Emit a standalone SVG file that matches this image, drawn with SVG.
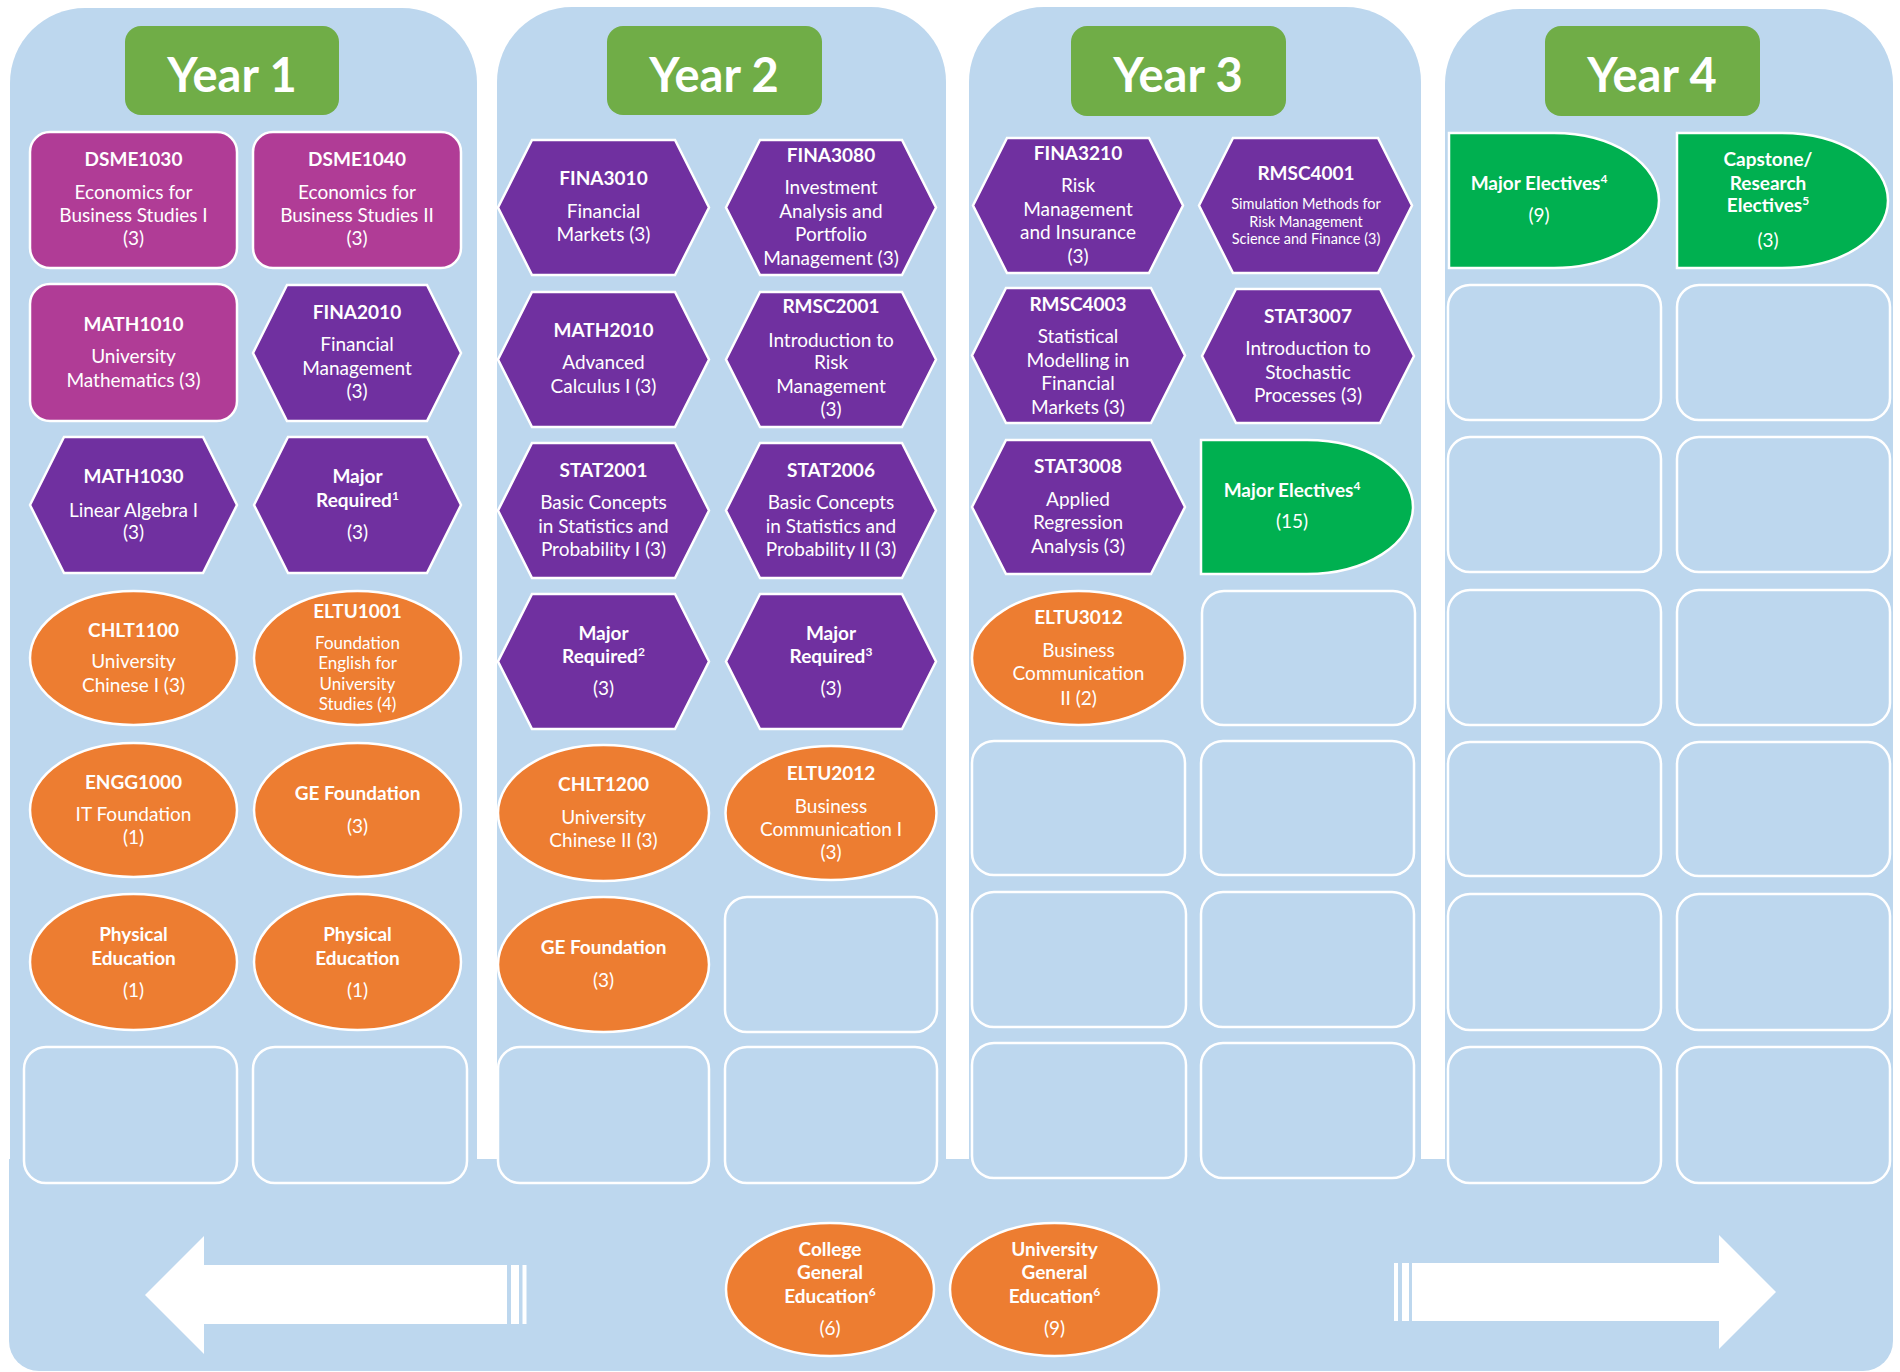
<svg xmlns="http://www.w3.org/2000/svg" width="1900" height="1372" viewBox="0 0 1900 1372">
<style>
.col{fill:#BDD7EE}
.yr{fill:#70AD47}
.yt{font-family:Lato,"Open Sans","Liberation Sans",sans-serif;font-weight:700;font-size:47px;fill:#fff;text-anchor:middle}
.mag{fill:#B03C96;stroke:#fff;stroke-width:2.5}
.pur{fill:#7030A0;stroke:#fff;stroke-width:2.5}
.org{fill:#ED7D31;stroke:#fff;stroke-width:2.5}
.grn{fill:#00B050;stroke:#fff;stroke-width:2.5}
.emp{fill:none;stroke:#fff;stroke-width:2.5}
.arr{fill:#fff}
text{font-family:Lato,"Open Sans","Liberation Sans",sans-serif;font-size:19px;fill:#fff;text-anchor:middle}
.b{font-weight:700}
.s{font-size:17px}
.xs{font-size:14.5px}
.sup{font-size:12px}
</style>

<g id="background">
<path class="col" d="M10,1200 V83 A75,75 0 0 1 85,8 H402 A75,75 0 0 1 477,83 V1200 Z"/>
<path class="col" d="M497,1200 V82 A75,75 0 0 1 572,7 H871 A75,75 0 0 1 946,82 V1200 Z"/>
<path class="col" d="M969,1200 V82 A75,75 0 0 1 1044,7 H1346 A75,75 0 0 1 1421,82 V1200 Z"/>
<path class="col" d="M1445,1200 V84 A75,75 0 0 1 1520,9 H1818 A75,75 0 0 1 1893,84 V1200 Z"/>
<path class="col" d="M9,1159 H1893 V1341 A30,30 0 0 1 1863,1371 H39 A30,30 0 0 1 9,1341 Z"/>
</g>

<g id="year1-label"><rect class="yr" x="125" y="26" width="214" height="89" rx="16"/><text class="yt" x="232" y="92">Year 1</text></g>
<g id="year2-label"><rect class="yr" x="607" y="26" width="215" height="89" rx="16"/><text class="yt" x="714" y="92">Year 2</text></g>
<g id="year3-label"><rect class="yr" x="1071" y="26" width="215" height="90" rx="16"/><text class="yt" x="1178" y="92">Year 3</text></g>
<g id="year4-label"><rect class="yr" x="1545" y="26" width="215" height="90" rx="16"/><text class="yt" x="1652" y="92">Year 4</text></g>

<!-- Year 1 -->
<g id="dsme1030"><rect class="mag" x="30" y="132" width="207" height="136" rx="20"/>
<text class="b" x="133.5" y="166">DSME1030</text><text x="133.5" y="199">Economics for</text><text x="133.5" y="222">Business Studies I</text><text x="133.5" y="245">(3)</text></g>
<g id="dsme1040"><rect class="mag" x="253" y="132" width="208" height="136" rx="20"/>
<text class="b" x="357" y="166">DSME1040</text><text x="357" y="199">Economics for</text><text x="357" y="222">Business Studies II</text><text x="357" y="245">(3)</text></g>
<g id="math1010"><rect class="mag" x="30" y="284" width="207" height="137" rx="20"/>
<text class="b" x="133.5" y="331">MATH1010</text><text x="133.5" y="363">University</text><text x="133.5" y="387">Mathematics (3)</text></g>
<g id="fina2010"><polygon class="pur" points="253,353 287,285 427,285 461,353 427,421 287,421"/>
<text class="b" x="357" y="319">FINA2010</text><text x="357" y="351">Financial</text><text x="357" y="375">Management</text><text x="357" y="398">(3)</text></g>
<g id="math1030"><polygon class="pur" points="30,505 64,437 203,437 237,505 203,573 64,573"/>
<text class="b" x="133.5" y="483">MATH1030</text><text x="133.5" y="517">Linear Algebra I</text><text x="133.5" y="539">(3)</text></g>
<g id="major-required-1"><polygon class="pur" points="254,505 288,437 427,437 461,505 427,573 288,573"/>
<text class="b" x="357.5" y="483">Major</text><text class="b" x="357.5" y="507">Required<tspan class="sup" dy="-7">1</tspan></text><text x="357.5" y="539">(3)</text></g>
<g id="chlt1100"><ellipse class="org" cx="133.5" cy="658" rx="103.5" ry="67"/>
<text class="b" x="133.5" y="637">CHLT1100</text><text x="133.5" y="668">University</text><text x="133.5" y="692">Chinese I (3)</text></g>
<g id="eltu1001"><ellipse class="org" cx="357.5" cy="658" rx="103.5" ry="67"/>
<text class="b" x="357.5" y="618">ELTU1001</text><text class="s" x="357.5" y="649">Foundation</text><text class="s" x="357.5" y="669">English for</text><text class="s" x="357.5" y="690">University</text><text class="s" x="357.5" y="710">Studies (4)</text></g>
<g id="engg1000"><ellipse class="org" cx="133.5" cy="810" rx="103.5" ry="67"/>
<text class="b" x="133.5" y="789">ENGG1000</text><text x="133.5" y="821">IT Foundation</text><text x="133.5" y="844">(1)</text></g>
<g id="ge-foundation-y1"><ellipse class="org" cx="357.5" cy="810" rx="103.5" ry="67"/>
<text class="b" x="357.5" y="800">GE Foundation</text><text x="357.5" y="833">(3)</text></g>
<g id="pe-1"><ellipse class="org" cx="133.5" cy="962" rx="103.5" ry="68"/>
<text class="b" x="133.5" y="941">Physical</text><text class="b" x="133.5" y="965">Education</text><text x="133.5" y="997">(1)</text></g>
<g id="pe-2"><ellipse class="org" cx="357.5" cy="962" rx="103.5" ry="68"/>
<text class="b" x="357.5" y="941">Physical</text><text class="b" x="357.5" y="965">Education</text><text x="357.5" y="997">(1)</text></g>
<g id="y1-empty-1"><rect class="emp" x="24" y="1047" width="213" height="136" rx="22"/></g>
<g id="y1-empty-2"><rect class="emp" x="253" y="1047" width="214" height="136" rx="22"/></g>

<!-- Year 2 -->
<g id="fina3010"><polygon class="pur" points="498,207.5 532,140 675,140 709,207.5 675,275 532,275"/>
<text class="b" x="603.5" y="185">FINA3010</text><text x="603.5" y="218">Financial</text><text x="603.5" y="241">Markets (3)</text></g>
<g id="fina3080"><polygon class="pur" points="726,207.5 760,140 902,140 936,207.5 902,275 760,275"/>
<text class="b" x="831" y="162">FINA3080</text><text x="831" y="194">Investment</text><text x="831" y="218">Analysis and</text><text x="831" y="241">Portfolio</text><text x="831" y="265">Management (3)</text></g>
<g id="math2010"><polygon class="pur" points="498,359.5 532,292 675,292 709,359.5 675,427 532,427"/>
<text class="b" x="603.5" y="337">MATH2010</text><text x="603.5" y="369">Advanced</text><text x="603.5" y="393">Calculus I (3)</text></g>
<g id="rmsc2001"><polygon class="pur" points="726,359.5 760,292 902,292 936,359.5 902,427 760,427"/>
<text class="b" x="831" y="313">RMSC2001</text><text x="831" y="347">Introduction to</text><text x="831" y="369">Risk</text><text x="831" y="393">Management</text><text x="831" y="416">(3)</text></g>
<g id="stat2001"><polygon class="pur" points="498,510.5 532,443 675,443 709,510.5 675,578 532,578"/>
<text class="b" x="603.5" y="477">STAT2001</text><text x="603.5" y="509">Basic Concepts</text><text x="603.5" y="533">in Statistics and</text><text x="603.5" y="556">Probability I (3)</text></g>
<g id="stat2006"><polygon class="pur" points="726,510.5 760,443 902,443 936,510.5 902,578 760,578"/>
<text class="b" x="831" y="477">STAT2006</text><text x="831" y="509">Basic Concepts</text><text x="831" y="533">in Statistics and</text><text x="831" y="556">Probability II (3)</text></g>
<g id="major-required-2"><polygon class="pur" points="498,661.5 532,594 675,594 709,661.5 675,729 532,729"/>
<text class="b" x="603.5" y="640">Major</text><text class="b" x="603.5" y="663">Required<tspan class="sup" dy="-7">2</tspan></text><text x="603.5" y="695">(3)</text></g>
<g id="major-required-3"><polygon class="pur" points="726,661.5 760,594 902,594 936,661.5 902,729 760,729"/>
<text class="b" x="831" y="640">Major</text><text class="b" x="831" y="663">Required<tspan class="sup" dy="-7">3</tspan></text><text x="831" y="695">(3)</text></g>
<g id="chlt1200"><ellipse class="org" cx="603.5" cy="813" rx="105.5" ry="68"/>
<text class="b" x="603.5" y="791">CHLT1200</text><text x="603.5" y="824">University</text><text x="603.5" y="847">Chinese II (3)</text></g>
<g id="eltu2012"><ellipse class="org" cx="831" cy="813" rx="105.5" ry="67"/>
<text class="b" x="831" y="780">ELTU2012</text><text x="831" y="813">Business</text><text x="831" y="836">Communication I</text><text x="831" y="859">(3)</text></g>
<g id="ge-foundation-y2"><ellipse class="org" cx="603.5" cy="964.5" rx="105.5" ry="67.5"/>
<text class="b" x="603.5" y="954">GE Foundation</text><text x="603.5" y="987">(3)</text></g>
<g id="y2-empty-1"><rect class="emp" x="725" y="897" width="212" height="135" rx="22"/></g>
<g id="y2-empty-2"><rect class="emp" x="498" y="1047" width="211" height="136" rx="22"/></g>
<g id="y2-empty-3"><rect class="emp" x="725" y="1047" width="212" height="136" rx="22"/></g>

<!-- Year 3 -->
<g id="fina3210"><polygon class="pur" points="973,205.5 1007,138 1149,138 1183,205.5 1149,273 1007,273"/>
<text class="b" x="1078" y="160">FINA3210</text><text x="1078" y="192">Risk</text><text x="1078" y="216">Management</text><text x="1078" y="239">and Insurance</text><text x="1078" y="263">(3)</text></g>
<g id="rmsc4001"><polygon class="pur" points="1199,205.5 1233,138 1378,138 1412,205.5 1378,273 1233,273"/>
<text class="b" x="1306" y="180">RMSC4001</text><text class="xs" x="1306" y="209">Simulation Methods for</text><text class="xs" x="1306" y="227">Risk Management</text><text class="xs" x="1306" y="244">Science and Finance (3)</text></g>
<g id="rmsc4003"><polygon class="pur" points="972,355.5 1006,288 1151,288 1185,355.5 1151,423 1006,423"/>
<text class="b" x="1078" y="311">RMSC4003</text><text x="1078" y="343">Statistical</text><text x="1078" y="367">Modelling in</text><text x="1078" y="390">Financial</text><text x="1078" y="414">Markets (3)</text></g>
<g id="stat3007"><polygon class="pur" points="1202,356 1236,289 1380,289 1414,356 1380,423 1236,423"/>
<text class="b" x="1308" y="323">STAT3007</text><text x="1308" y="355">Introduction to</text><text x="1308" y="379">Stochastic</text><text x="1308" y="402">Processes (3)</text></g>
<g id="stat3008"><polygon class="pur" points="972,507 1006,440 1151,440 1185,507 1151,574 1006,574"/>
<text class="b" x="1078" y="473">STAT3008</text><text x="1078" y="506">Applied</text><text x="1078" y="529">Regression</text><text x="1078" y="553">Analysis (3)</text></g>
<g id="major-electives-15"><path class="grn" d="M1201,440 H1307 A106,67 0 0 1 1307,574 H1201 Z"/>
<text class="b" x="1292" y="497">Major Electives<tspan class="sup" dy="-7">4</tspan></text><text x="1292" y="528">(15)</text></g>
<g id="eltu3012"><ellipse class="org" cx="1078.5" cy="658" rx="106.5" ry="67"/>
<text class="b" x="1078.5" y="624">ELTU3012</text><text x="1078.5" y="657">Business</text><text x="1078.5" y="680">Communication</text><text x="1078.5" y="705">II (2)</text></g>
<g id="y3-empty-1"><rect class="emp" x="1202" y="591" width="213" height="134" rx="22"/></g>
<g id="y3-empty-2"><rect class="emp" x="972" y="741" width="213" height="134" rx="22"/></g>
<g id="y3-empty-3"><rect class="emp" x="1201" y="741" width="213" height="134" rx="22"/></g>
<g id="y3-empty-4"><rect class="emp" x="972" y="892" width="214" height="135" rx="22"/></g>
<g id="y3-empty-5"><rect class="emp" x="1201" y="892" width="213" height="135" rx="22"/></g>
<g id="y3-empty-6"><rect class="emp" x="972" y="1043" width="214" height="135" rx="22"/></g>
<g id="y3-empty-7"><rect class="emp" x="1201" y="1043" width="213" height="135" rx="22"/></g>

<!-- Year 4 -->
<g id="major-electives-9"><path class="grn" d="M1449,133 H1554 A105,67.5 0 0 1 1554,268 H1449 Z"/>
<text class="b" x="1539" y="190">Major Electives<tspan class="sup" dy="-7">4</tspan></text><text x="1539" y="222">(9)</text></g>
<g id="capstone"><path class="grn" d="M1677,133 H1782 A106,67.5 0 0 1 1782,268 H1677 Z"/>
<text class="b" x="1768" y="166">Capstone/</text><text class="b" x="1768" y="190">Research</text><text class="b" x="1768" y="212">Electives<tspan class="sup" dy="-7">5</tspan></text><text x="1768" y="247">(3)</text></g>
<g id="y4-empty-1"><rect class="emp" x="1448" y="285" width="213" height="135" rx="22"/></g>
<g id="y4-empty-2"><rect class="emp" x="1677" y="285" width="213" height="135" rx="22"/></g>
<g id="y4-empty-3"><rect class="emp" x="1448" y="437" width="213" height="135" rx="22"/></g>
<g id="y4-empty-4"><rect class="emp" x="1677" y="437" width="213" height="135" rx="22"/></g>
<g id="y4-empty-5"><rect class="emp" x="1448" y="590" width="213" height="135" rx="22"/></g>
<g id="y4-empty-6"><rect class="emp" x="1677" y="590" width="213" height="135" rx="22"/></g>
<g id="y4-empty-7"><rect class="emp" x="1448" y="742" width="213" height="134" rx="22"/></g>
<g id="y4-empty-8"><rect class="emp" x="1677" y="742" width="213" height="134" rx="22"/></g>
<g id="y4-empty-9"><rect class="emp" x="1448" y="894" width="213" height="136" rx="22"/></g>
<g id="y4-empty-10"><rect class="emp" x="1677" y="894" width="213" height="136" rx="22"/></g>
<g id="y4-empty-11"><rect class="emp" x="1448" y="1047" width="213" height="136" rx="22"/></g>
<g id="y4-empty-12"><rect class="emp" x="1677" y="1047" width="213" height="136" rx="22"/></g>

<!-- Bottom -->
<g id="college-ge"><ellipse class="org" cx="830" cy="1289.5" rx="104" ry="66.5"/>
<text class="b" x="830" y="1256">College</text><text class="b" x="830" y="1279">General</text><text class="b" x="830" y="1303">Education<tspan class="sup" dy="-7">6</tspan></text><text x="830" y="1335">(6)</text></g>
<g id="university-ge"><ellipse class="org" cx="1054.5" cy="1289.5" rx="104.5" ry="66.5"/>
<text class="b" x="1054.5" y="1256">University</text><text class="b" x="1054.5" y="1279">General</text><text class="b" x="1054.5" y="1303">Education<tspan class="sup" dy="-7">6</tspan></text><text x="1054.5" y="1335">(9)</text></g>

<g id="connectors">
<polygon class="arr" points="145,1295 204,1236 204,1265 507,1265 507,1324 204,1324 204,1354"/>
<rect class="arr" x="511" y="1265" width="8" height="59"/>
<rect class="arr" x="522.5" y="1265" width="4" height="59"/>
<rect class="arr" x="1394" y="1263" width="4" height="58"/>
<rect class="arr" x="1402" y="1263" width="7" height="58"/>
<polygon class="arr" points="1412,1263 1719,1263 1719,1235 1776,1292 1719,1349 1719,1321 1412,1321"/>
</g>
</svg>
